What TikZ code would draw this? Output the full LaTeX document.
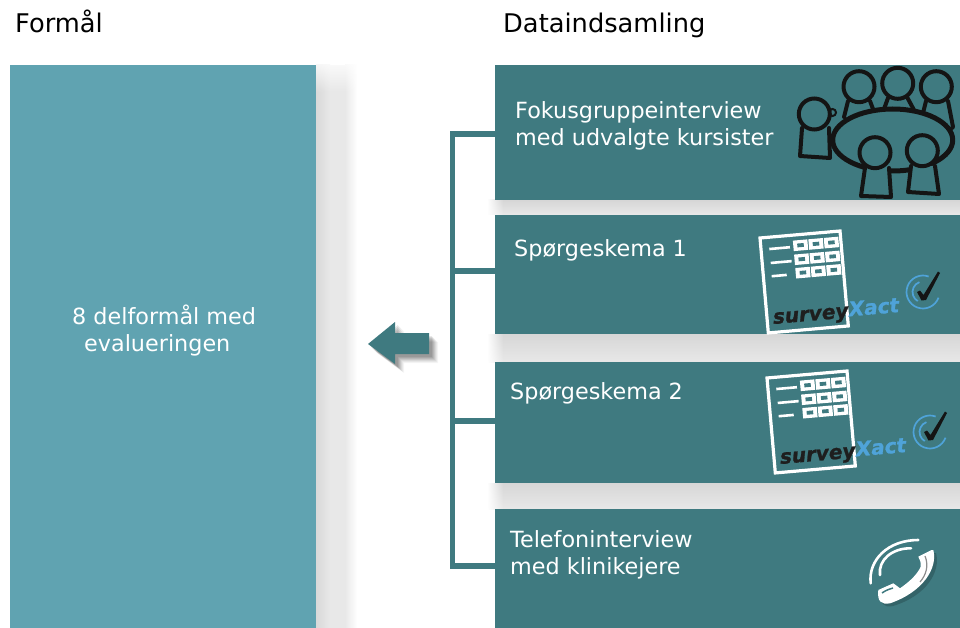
\documentclass[tikz,border=0pt]{standalone}
\usetikzlibrary{fadings}
\usepackage{fontspec}
\setmainfont{DejaVu Sans}
\newfontfamily\surveyfont[BoldItalicFeatures={FakeBold=1.2}]{DejaVu Sans}
\newfontfamily\xactfont[BoldItalicFeatures={FakeBold=1.2}]{DejaVu Sans}
\definecolor{darkteal}{HTML}{3F7A80}
\definecolor{lightteal}{HTML}{60A3B1}
\definecolor{logoblue}{HTML}{4FA3D9}
\definecolor{inkblack}{HTML}{141414}
\definecolor{logoblack}{HTML}{1E1E1E}
\newcommand{\formcell}[2]{%
  \fill[white] (#1,#2) rectangle ++(14.5,10.5);
  \fill[darkteal] (#1+4,#2+3.3) rectangle ++(6.5,3.8);
}
\newcommand{\gapshadow}[2]{%
  \shade[top color=black!16,bottom color=black!9] (504,#1) rectangle (960,#2);
  \foreach \s in {0,...,15}{
    \pgfmathsetmacro{\topshade}{16*(\s+1)/16}
    \pgfmathsetmacro{\botshade}{9*(\s+1)/16}
    \shade[top color=black!\topshade,bottom color=black!\botshade] (488+\s,#1) rectangle (489.3+\s,#2);
  }
}
\tikzset{
  x=1pt,y=-1pt,
  darkbox/.style={fill=darkteal,draw=none,minimum width=465pt,anchor=north west,inner sep=0pt,outer sep=0pt},
  lightbox/.style={fill=lightteal,draw=none,anchor=north west,inner sep=0pt,outer sep=0pt},
  bracketline/.style={draw=darkteal,line width=5.5pt},
  heading/.style={anchor=base west,inner sep=0pt,font=\fontsize{25.7}{28}\selectfont},
  bodytext/.style={anchor=base west,inner sep=0pt,text=white,align=left,font=\fontsize{22.3}{27}\selectfont},
  peopleline/.style={draw=inkblack,line width=4pt,line cap=round,line join=round},
  headcircle/.style={draw=inkblack,fill=darkteal,line width=4pt},
  logoarc/.style={draw=logoblue,line width=1.7pt},
  surveyform/.pic={
    \begin{scope}[rotate=5,transform shape]
      \draw[white,line width=3.2pt] (0,0) rectangle (80.3,95.3);
      \draw[white,line width=2.6pt] (8.3,11.8) -- (29,11.8) (8.5,25.8) -- (29.5,25.8) (8.3,39.1) -- (23.4,39.1);
      \formcell{32.5}{5.5}\formcell{48}{5.5}\formcell{63.5}{5.5}
      \formcell{32.5}{19.5}\formcell{48}{19.5}\formcell{63.5}{19.5}
      \formcell{32.5}{33}\formcell{48}{33}\formcell{63.5}{33}
      \node[anchor=base west,inner sep=0pt,text=logoblack,font=\fontsize{20}{22}\surveyfont\bfseries\itshape] (-srv) at (5.8,86.8) {survey};
      \node[anchor=base west,inner sep=0pt,text=logoblue,font=\fontsize{20}{22}\xactfont\bfseries\itshape] (-xct) at (82,85.8) {Xact};
    \end{scope}
    \draw[logoarc] (163,54) ++(290:16.5) arc (290:20:16.5);
    \draw[logoarc] (163,54) ++(250:10.5) arc (250:120:10.5);
    \fill[inkblack] (157,54) -- (160,52.5) -- (163.5,57) -- (178,33.5) -- (180,35) -- (166,62) -- (161.5,62.5) -- cycle;
  }
}
\begin{document}
\begin{tikzpicture}
\useasboundingbox (0,0) rectangle (960,628);
\clip (0,0) rectangle (960,628);
\fill[white] (0,0) rectangle (960,628);

% soft shadows
\shade[left color=black!15,right color=black!9] (316,65) rectangle (330,628);
\fill[black!9] (330,65) rectangle (345,628);
\shade[left color=black!9,right color=white] (345,65) rectangle (357,628);
\fill[white,path fading=south] (310,56) rectangle (362,92);
\gapshadow{200}{215}
\gapshadow{334}{362}
\gapshadow{483}{509}

% boxes
\node[lightbox,minimum width=306pt,minimum height=563pt] (purpose) at (10,65) {};
\node[darkbox,minimum height=135pt] (box1) at (495,65) {};
\node[darkbox,minimum height=119pt] (box2) at (495,215) {};
\node[darkbox,minimum height=121pt] (box3) at (495,362) {};
\node[darkbox,minimum height=119pt] (box4) at (495,509) {};

% headings and texts
\node[heading] (h1) at (15,33) {Formål};
\node[heading] (h2) at (503,33) {Dataindsamling};
\node[bodytext] (t0a) at (72,324) {8 delformål med};
\node[bodytext] (t0b) at (84,351) {evalueringen};
\node[bodytext] (t1a) at (515,118.5) {Fokusgruppeinterview};
\node[bodytext] (t1b) at (515,145.5) {med udvalgte kursister};
\node[bodytext] (t2) at (514,256) {Spørgeskema 1};
\node[bodytext] (t3) at (510,399) {Spørgeskema 2};
\node[bodytext] (t4a) at (510,547) {Telefoninterview};
\node[bodytext] (t4b) at (510,574) {med klinikejere};

% bracket
\coordinate (s1) at (452.3,134);
\coordinate (s2) at (452.3,271);
\coordinate (s3) at (452.3,421);
\coordinate (s4) at (452.3,566);
\draw[bracketline,line cap=butt] (box1.west |- s1) -- (s1) -- (s4) -- (box4.west |- s4);
\draw[bracketline] (s2) -- (box2.west |- s2);
\draw[bracketline] (s3) -- (box3.west |- s3);

% block arrow with shadow
\foreach \d/\o in {9/.04,8/.05,7/.06,6/.07,5/.08,4/.09,3/.09}{
  \fill[black,opacity=\o,line join=round] (368+\d,344+\d) -- (395+\d,322+\d) -- (395+\d,333+\d) -- (429+\d,333+\d) -- (429+\d,354+\d) -- (395+\d,354+\d) -- (395+\d,364+\d) -- cycle;
}
\fill[darkteal] (368,344) -- (395,322) -- (395,333) -- (429,333) -- (429,354) -- (395,354) -- (395,364) -- cycle;

% meeting icon
\draw[peopleline] (802,128) -- (800,156) -- (830,158) -- (829,128);
\draw[draw=inkblack,line width=2pt] (832.5,112.5) circle [radius=3.5];
\draw[peopleline] (848,101) -- (844,117) (870,101) -- (873,109);
\draw[peopleline] (888,98) -- (884,109) (907,97) -- (914,110);
\draw[peopleline] (926,101) -- (923,113) (948,101) -- (953,127) -- (952,128);
\draw[inkblack,line width=5pt,fill=darkteal] (892.7,140) ellipse [x radius=60,y radius=31];
\draw[peopleline,fill=darkteal] (865,168) -- (861,196) -- (891,197) -- (889,168);
\draw[peopleline,fill=darkteal] (911,166) -- (908,192) -- (939,194) -- (935,166);
\draw[headcircle] (814.3,114) circle [radius=15.5];
\draw[headcircle] (859,86.7) circle [radius=15.5];
\draw[headcircle] (897.7,83.3) circle [radius=15.5];
\draw[headcircle] (936.3,86.7) circle [radius=15.5];
\draw[headcircle] (875,152.7) circle [radius=15.5];
\draw[headcircle] (922.3,150.7) circle [radius=15.5];

% survey forms
\pic (f1) at (760,238) {surveyform};
\pic (f2) at (767,378) {surveyform};

% phone icon
\fill[black,opacity=.18] (936,553) .. controls (941,572) and (926,596) .. (893,606) .. controls (884,608) and (880,604) .. (881,593) -- (896,586) -- (903,591) .. controls (912,585) and (920,578) .. (924,560) -- (921,560) -- (934,553) -- cycle;
\draw[white,line width=2.6pt,line cap=round] (870.7,583.3) .. controls (868,560) and (888,540) .. (918.3,540);
\draw[white,line width=2.6pt,line cap=round] (880,575) .. controls (878,560) and (892,548) .. (911,548.3);
\fill[white] (933.3,550) .. controls (938,568) and (923,592) .. (890,603.3) .. controls (881,605) and (877,601) .. (878.3,590) -- (893.3,583.3) -- (900,588.3) .. controls (909,582) and (917,575) .. (920.7,566.7) .. controls (921,562) and (920,560) .. (918.3,556.7) -- (931.7,550) -- cycle;
\draw[darkteal,line width=1.5pt] (882,593) .. controls (886,590) and (890,589) .. (893,588);
\draw[black!45,line width=1.2pt] (925,556) .. controls (929,566) and (926,575) .. (920,582);
\end{tikzpicture}
\end{document}
